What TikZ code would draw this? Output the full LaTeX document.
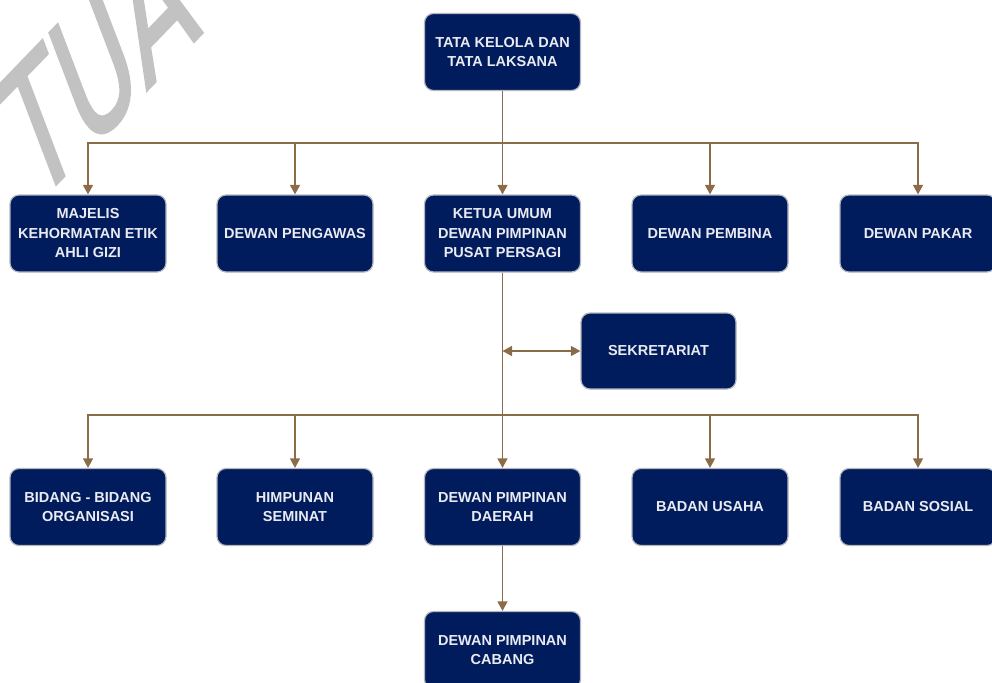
\documentclass[tikz,border=0pt]{standalone}
\usepackage{fontspec}
\setmainfont{Liberation Sans}
\newfontfamily\wmfont[FakeBold=2]{DejaVu Sans}
\usetikzlibrary{arrows.meta}

\definecolor{navy}{RGB}{1,28,92}
\definecolor{boxedge}{RGB}{180,183,192}
\definecolor{linkbrown}{RGB}{140,108,72}
\definecolor{boxtext}{RGB}{234,235,242}
\definecolor{wmgray}{RGB}{194,194,194}

\begin{document}
\begin{tikzpicture}[x=1pt,y=1pt,
  orgbox/.style={draw=boxedge, line width=1.2pt, fill=navy, rounded corners=9pt,
    minimum width=156pt, minimum height=77pt, inner sep=2pt, align=center,
    text=boxtext, font=\fontsize{14.5}{19.5}\selectfont\bfseries},
  link/.style={draw=linkbrown, line width=1.4pt},
  arrowed/.style={link, -{Triangle[length=9.5pt,width=10pt]}},
  bothways/.style={link, {Triangle[length=9.5pt,width=10pt]}-{Triangle[length=9.5pt,width=10pt]}},
  wmark/.style={text=wmgray, font=\wmfont\fontsize{100}{100}\selectfont}]

\useasboundingbox (0,0) rectangle (992,-682);
\clip (0,0) rectangle (992,-682);

% background watermark, rotated and sheared
\begin{scope}[shift={(34.6,-206.3)}, rotate=46, xslant=0.469, xscale=1.195, yscale=1.501]
  \node[wmark, anchor=base west, inner sep=0pt, transform shape] (wm) at (0,0) {TUA};
\end{scope}

% top level
\node[orgbox] (tata) at (502.5,-52) {TATA KELOLA DAN\\TATA LAKSANA};

% first row
\node[orgbox] (mkeag) at (88,-233.5)  {MAJELIS\\KEHORMATAN ETIK\\AHLI GIZI};
\node[orgbox] (dpeng) at (295,-233.5) {DEWAN PENGAWAS};
\node[orgbox] (ketua) at (502.5,-233.5) {KETUA UMUM\\DEWAN PIMPINAN\\PUSAT PERSAGI};
\node[orgbox] (dpemb) at (710,-233.5) {DEWAN PEMBINA};
\node[orgbox] (dpak)  at (918,-233.5) {DEWAN PAKAR};

% secretariat
\node[orgbox, minimum width=155pt, minimum height=76pt] (sekr) at (658.5,-351) {SEKRETARIAT};

% second row
\node[orgbox] (bidang) at (88,-507)  {BIDANG - BIDANG\\ORGANISASI};
\node[orgbox] (himp)   at (295,-507) {HIMPUNAN\\SEMINAT};
\node[orgbox] (dpd)    at (502.5,-507) {DEWAN PIMPINAN\\DAERAH};
\node[orgbox] (busaha) at (710,-507) {BADAN USAHA};
\node[orgbox] (bsos)   at (918,-507) {BADAN SOSIAL};

% branch level
\node[orgbox] (dpc) at (502.5,-650) {DEWAN PIMPINAN\\CABANG};

% junctions of the two distribution buses
\coordinate (bus1) at (502.5,-143);
\coordinate (bus2) at (502.5,-415);

% connectors
\draw[link] (tata.south) -- (bus1);
\foreach \n in {mkeag,dpeng,ketua,dpemb,dpak}
  \draw[arrowed] (bus1) -| (\n.north);

\draw[link] (ketua.south) -- (bus2);
\draw[bothways] (ketua.south |- sekr.west) -- (sekr.west);
\foreach \n in {bidang,himp,dpd,busaha,bsos}
  \draw[arrowed] (bus2) -| (\n.north);

\draw[arrowed] (dpd.south) -- (dpc.north);
\end{tikzpicture}
\end{document}
